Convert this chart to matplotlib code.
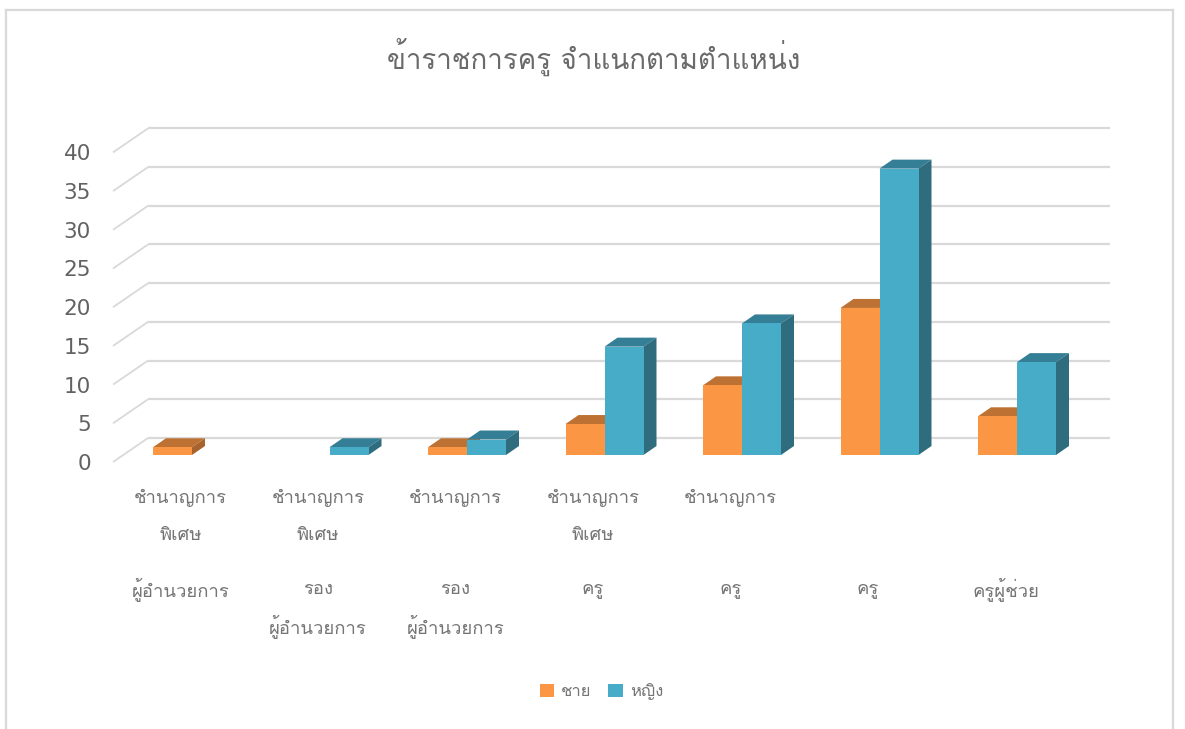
import matplotlib
matplotlib.use("Agg")
import matplotlib.pyplot as plt
from matplotlib.lines import Line2D
from matplotlib.patches import Patch, Polygon

plt.rcParams['font.family'] = ['Loma', 'Noto Sans Thai', 'DejaVu Sans']

title = "ข้าราชการครู จำแนกตามตำแหน่ง"
levels = ["ชำนาญการ\nพิเศษ", "ชำนาญการ\nพิเศษ", "ชำนาญการ", "ชำนาญการ\nพิเศษ", "ชำนาญการ", "", ""]
positions = ["ผู้อำนวยการ", "รอง\nผู้อำนวยการ", "รอง\nผู้อำนวยการ", "ครู", "ครู", "ครู", "ครูผู้ช่วย"]
series_names = ["ชาย", "หญิง"]
male = [1, 0, 1, 4, 9, 19, 5]
female = [0, 1, 2, 14, 17, 37, 12]
yticks = [0, 5, 10, 15, 20, 25, 30, 35, 40]

W, H = 1185, 729
fig = plt.figure(figsize=(W / 100, H / 100), dpi=100)
CAT_PX = 137.5
UNIT_PX = 7.74
X0_PX = 192.0
Y0_PX = 455.0

left = (X0_PX - 0.5 * CAT_PX) / W
bottom = 1 - Y0_PX / H
ax = fig.add_axes([left, bottom, 7 * CAT_PX / W, 40 * UNIT_PX / H])
ax.set_xlim(-0.5, 6.5)
ax.set_ylim(0, 40)
ax.axis('off')

def dx(px):
    return px / CAT_PX

def dy(px):
    return px / UNIT_PX

def x_of(px):
    return (px - X0_PX) / CAT_PX

def y_of(px):
    return (Y0_PX - px) / UNIT_PX

GRID = '#d9d9d9'
TXT = '#757575'
FRONT_X, BACK_X, END_X = x_of(113), x_of(148), x_of(1110)
FRONT_FLOOR, BACK_FLOOR = y_of(462), y_of(438)

for v in yticks:
    ax.plot([FRONT_X, BACK_X], [FRONT_FLOOR + v, BACK_FLOOR + v], color=GRID, lw=1.3,
            clip_on=False, zorder=1, solid_capstyle='butt')
    ax.plot([BACK_X, END_X], [BACK_FLOOR + v, BACK_FLOOR + v], color=GRID, lw=1.6,
            clip_on=False, zorder=1, solid_capstyle='butt')
    ax.text(x_of(91), FRONT_FLOOR + v - dy(2), str(v), ha='right', va='center',
            fontsize=15.5, color='#626262', clip_on=False, family='DejaVu Sans')

BAR_W = 39 / CAT_PX
DX, DY = dx(13), dy(9)
styles = [('#fb9744', '#bd7233', '#a8632c'), ('#47acc8', '#357f96', '#2f6c7d')]

def draw_bar(x, v, cols, z):
    front, top, side = cols
    ax.add_patch(Polygon([(x, 0), (x + BAR_W, 0), (x + BAR_W, v), (x, v)], closed=True,
                         fc=front, ec='none', zorder=z + 0.2, clip_on=False))
    ax.add_patch(Polygon([(x, v), (x + BAR_W, v), (x + BAR_W + DX, v + DY), (x + DX, v + DY)],
                         closed=True, fc=top, ec='none', zorder=z, clip_on=False))
    ax.add_patch(Polygon([(x + BAR_W, 0), (x + BAR_W + DX, DY), (x + BAR_W + DX, v + DY), (x + BAR_W, v)],
                         closed=True, fc=side, ec='none', zorder=z + 0.1, clip_on=False))

for i, (m, f) in enumerate(zip(male, female)):
    if m:
        draw_bar(i - BAR_W, m, styles[0], 3)
    if f:
        draw_bar(i, f, styles[1], 4)

LABEL_SHIFT = -11.5 / CAT_PX
for i, (a, b) in enumerate(zip(levels, positions)):
    for j, line in enumerate(a.split("\n")):
        if line:
            ax.text(i + LABEL_SHIFT, y_of(498 + 36.5 * j), line, ha='center', va='center',
                    fontsize=13.3, color=TXT, clip_on=False)
    for j, line in enumerate(b.split("\n")):
        ax.text(i + LABEL_SHIFT, y_of(589.5 + 37 * j), line, ha='center', va='center',
                fontsize=13.3, color=TXT, clip_on=False)

fig.text(593.5 / W, 1 - 57 / H, title, ha='center', va='center', fontsize=20, color='#6a6a6a')

handles = [Patch(fc=styles[0][0], ec='none'), Patch(fc=styles[1][0], ec='none')]
fig.legend(handles, series_names, loc='center', bbox_to_anchor=(601.5 / W, 1 - 692 / H), ncol=2,
           frameon=False, fontsize=12, labelcolor=TXT, handlelength=0.85, handleheight=0.85,
           columnspacing=1.0, handletextpad=0.44)

for xs, ys in [((6, 6), (10, H)), ((6, 1173), (10, 10)), ((1173, 1173), (10, H))]:
    fig.add_artist(Line2D([x / W for x in xs], [1 - y / H for y in ys], color='#d9d9d9', lw=1.6))

fig.savefig("out.png", dpi=100)
